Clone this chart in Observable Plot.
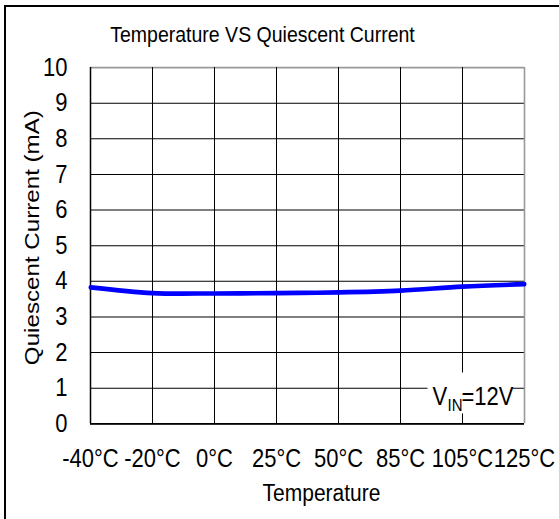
<!DOCTYPE html>
<html><head><meta charset="utf-8">
<script src="https://cdn.jsdelivr.net/npm/d3@7"></script>
<script src="https://cdn.jsdelivr.net/npm/@observablehq/plot@0.6"></script>
<style>
body{margin:0;background:#fff;}
#wrap{position:relative;width:559px;height:519px;overflow:hidden;background:#fff;}
#chart{position:absolute;left:0;top:0;}
#border{position:absolute;left:4px;top:5px;width:600px;height:600px;border-left:2px solid #000;border-top:2px solid #000;}
</style></head><body>
<div id="wrap"><div id="chart"></div><div id="border"></div></div>
<script>
// Data
const temps = ["-40°C","-20°C","0°C","25°C","50°C","85°C","105°C","125°C"];
const current = [3.83, 3.67, 3.66, 3.67, 3.69, 3.74, 3.85, 3.92];
const yTicks = [0,1,2,3,4,5,6,7,8,9,10];
const titleText = "Temperature VS Quiescent Current";
const xLabel = "Temperature";
const yLabel = "Quiescent Current (mA)";
const note = [{sym: "V", sub: "IN", rest: "=12V", at: "105°C", y: 1}];

const data = temps.map((t, i) => ({t, c: current[i]}));
const W = 559, H = 451; // drawn then stretched vertically to 519
const font = "'Liberation Sans', Arial, sans-serif";

const svg = Plot.plot({
  width: W, height: H,
  marginLeft: 90, marginRight: 35, marginTop: 58.2, marginBottom: 83.2,
  style: {fontFamily: font, fontSize: "22px", background: "transparent", color: "#000"},
  x: {type: "point", domain: temps, padding: 0},
  y: {domain: [0, 10]},
  marks: [
    Plot.ruleY(yTicks, {filter: d => d < 10, stroke: "#000", strokeWidth: 0.9}),
    Plot.ruleY(yTicks, {filter: d => d === 10, stroke: "#999", strokeWidth: 1.5}),
    Plot.ruleX(temps, {filter: d => d !== "125°C", stroke: "#000", strokeWidth: 1}),
    Plot.ruleX(temps, {filter: d => d === "125°C", stroke: "#999", strokeWidth: 1.6}),
    Plot.ruleX(temps, {filter: d => d === "-40°C", stroke: "#000", strokeWidth: 1.5}),
    Plot.ruleY(yTicks, {filter: d => d === 0, stroke: "#000", strokeWidth: 1.4}),
    Plot.frame({fill: "white", stroke: null, insetLeft: 337, insetRight: 12, insetTop: 265, insetBottom: 9}),
    Plot.axisX({tickSize: 0, tickPadding: 21.5, label: null, fontSize: 22}),
    Plot.axisY(yTicks, {tickSize: 0, tickPadding: 23, label: null, fontSize: 22, tickFormat: d => String(d)}),
    Plot.line(data, {x: "t", y: "c", stroke: "#0000ff", strokeWidth: 4, curve: "catmull-rom"}),
    Plot.text(note, {x: "at", y: "y", text: "sym", textAnchor: "start", lineAnchor: "bottom", dx: -30, dy: 15, fontSize: 22}),
    Plot.text(note, {x: "at", y: "y", text: "sub", textAnchor: "start", lineAnchor: "bottom", dx: -15, dy: 20, fontSize: 15}),
    Plot.text(note, {x: "at", y: "y", text: "rest", textAnchor: "start", lineAnchor: "bottom", dx: -1, dy: 15, fontSize: 22}),
    Plot.text([titleText], {text: d => d, frameAnchor: "top", textAnchor: "middle", dx: -45, dy: -28.8, lineAnchor: "middle", fontSize: 19.5}),
    Plot.text([xLabel], {text: d => d, frameAnchor: "bottom", textAnchor: "middle", dx: 14, dy: 60.2, lineAnchor: "middle", fontSize: 21}),
    Plot.text([yLabel], {text: d => d, frameAnchor: "left", textAnchor: "middle", rotate: -90, dx: -58, dy: -7, lineAnchor: "middle", fontSize: 21})
  ]
});
svg.setAttribute("preserveAspectRatio", "none");
svg.setAttribute("width", 559);
svg.setAttribute("height", 519);
svg.style.width = "559px";
svg.style.height = "519px";
svg.style.maxWidth = "none";
document.getElementById("chart").appendChild(svg);
</script>
</body></html>
